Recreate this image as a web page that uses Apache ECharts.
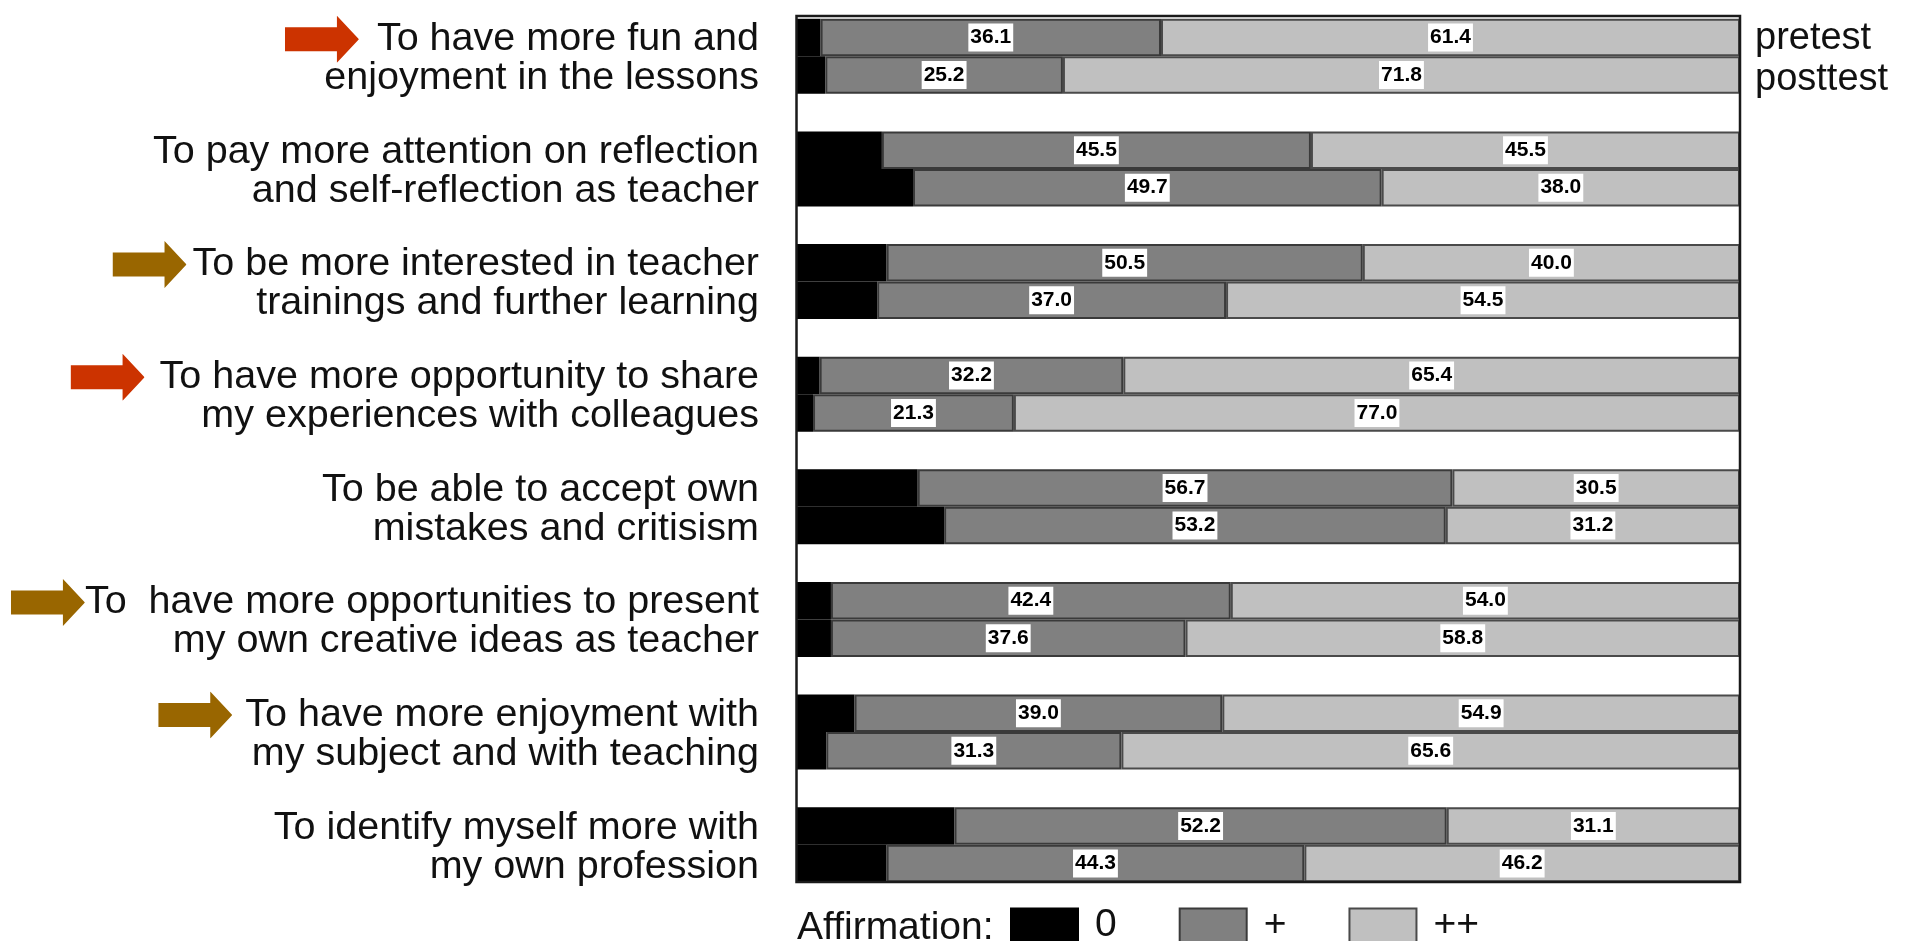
<!DOCTYPE html>
<html><head><meta charset="utf-8">
<script src="https://cdn.jsdelivr.net/npm/echarts@6/dist/echarts.min.js"></script>
<style>html,body{margin:0;padding:0;background:#fff}#c{width:1908px;height:941px}</style>
</head><body><div id="c"></div>
<script>
// ---- data ----
const categories = [
  'To have more fun and\nenjoyment in the lessons',
  'To pay more attention on reflection\nand self-reflection as teacher',
  'To be more interested in teacher\ntrainings and further learning',
  'To have more opportunity to share\nmy experiences with colleagues',
  'To be able to accept own\nmistakes and critisism',
  'To  have more opportunities to present\nmy own creative ideas as teacher',
  'To have more enjoyment with\nmy subject and with teaching',
  'To identify myself more with\nmy own profession'
];
const arrowColors = ['#CC3300', null, '#996600', '#CC3300', null, '#996600', '#996600', null];
const preZero   = [2.5, 9.0, 9.5, 2.4, 12.8, 3.6, 6.1, 16.7];
const prePlus   = [36.1, 45.5, 50.5, 32.2, 56.7, 42.4, 39.0, 52.2];
const preDouble = [61.4, 45.5, 40.0, 65.4, 30.5, 54.0, 54.9, 31.1];
const postZero   = [3.0, 12.3, 8.5, 1.7, 15.6, 3.6, 3.1, 9.5];
const postPlus   = [25.2, 49.7, 37.0, 21.3, 53.2, 37.6, 31.3, 44.3];
const postDouble = [71.8, 38.0, 54.5, 77.0, 31.2, 58.8, 65.6, 46.2];
const levelNames = ['0', '+', '++'];
const testNames = ['pretest', 'posttest'];
const legendTitle = 'Affirmation:';

// ---- layout / style ----
const arrowGaps = [18, 0, 6, 15, 0, 0, 13, 0];
const FONT = '"Liberation Sans", Arial, Helvetica, sans-serif';
const gridLeft = 797, gridRight = 1740, frameTop = 16, frameBottom = 882;
const band = 113, barW = 37.5;
const gridTop = frameTop - (band - 2 * barW) / 2;

function arrowURL(color) {
  const svg = '<svg xmlns="http://www.w3.org/2000/svg" width="74" height="47" viewBox="0 0 74 47">' +
    '<polygon points="0,11.5 52,11.5 52,0 74,23.5 52,47 52,35.5 0,35.5" fill="' + color + '"/></svg>';
  return 'data:image/svg+xml;charset=utf-8,' + encodeURIComponent(svg);
}
const rich = {};
arrowColors.forEach((c, i) => {
  if (c) {
    rich['ar' + i] = { width: 74, height: 47, lineHeight: 39, backgroundColor: { image: arrowURL(c) } };
    rich['sp' + i] = { width: arrowGaps[i], lineHeight: 39 };
  }
});

const colors = ['#000000', '#808080', '#c0c0c0'];
const borders = ['#000000', '#3a3a3a', '#4a4a4a'];
const fmt = p => p.value.toFixed(1);
const valueLabel = {
  show: true, position: 'inside', formatter: fmt,
  backgroundColor: '#ffffff', padding: [4, 2, 2, 2], lineHeight: 22,
  fontFamily: FONT, fontWeight: 'bold', fontSize: 21, color: '#000'
};

function mk(name, stack, data, lvl) {
  return {
    type: 'bar', name: name, stack: stack, data: data, barWidth: barW, barGap: 0,
    itemStyle: { color: colors[lvl], borderColor: borders[lvl], borderWidth: 2 },
    label: lvl === 0 ? { show: false } : valueLabel,
    emphasis: { disabled: true }, animation: false
  };
}

const series = [
  mk(levelNames[0], 'pre', preZero, 0),
  mk(levelNames[1], 'pre', prePlus, 1),
  mk(levelNames[2], 'pre', preDouble, 2),
  mk(levelNames[0], 'post', postZero, 0),
  mk(levelNames[1], 'post', postPlus, 1),
  mk(levelNames[2], 'post', postDouble, 2)
];

const chart = echarts.init(document.getElementById('c'), null, { renderer: 'canvas' });
chart.setOption({
  animation: false,
  backgroundColor: '#ffffff',
  grid: { left: gridLeft, width: gridRight - gridLeft, top: gridTop, height: band * categories.length, containLabel: false },
  xAxis: { type: 'value', min: 0, max: 100, show: false },
  yAxis: {
    type: 'category', inverse: true, data: categories,
    axisLine: { show: false }, axisTick: { show: false }, splitLine: { show: false },
    axisLabel: {
      interval: 0, margin: 38, fontSize: 39.5, lineHeight: 39, color: '#111', fontFamily: FONT,
      padding: [5, 0, 0, 0],
      formatter: function (v, i) {
        if (!arrowColors[i]) return v;
        const parts = v.split('\n');
        return '{ar' + i + '|}{sp' + i + '|}' + parts[0] + '\n' + parts.slice(1).join('\n');
      },
      rich: rich
    }
  },
  title: {
    text: legendTitle, left: 797, top: 908, padding: 0,
    textStyle: { fontFamily: FONT, fontSize: 39, fontWeight: 'normal', color: '#111', lineHeight: 40 }
  },
  legend: {
    data: levelNames, left: 1010, top: 906, padding: 0, icon: 'rect',
    itemWidth: 67, itemHeight: 34, itemGap: 62, selectedMode: false,
    textStyle: { fontFamily: FONT, fontSize: 39, color: '#111', padding: [0, 0, 0, 12] }
  },
  graphic: [
    { type: 'rect', z: 100, silent: true,
      shape: { x: gridLeft - 0.5, y: frameTop, width: gridRight - gridLeft + 0.5, height: frameBottom - frameTop },
      style: { fill: null, stroke: '#1a1a1a', lineWidth: 2.5 } },
    { type: 'text', left: 1755, top: 20, silent: true,
      style: { text: testNames[0], font: '38px ' + FONT, fill: '#111' } },
    { type: 'text', left: 1755, top: 61, silent: true,
      style: { text: testNames[1], font: '38px ' + FONT, fill: '#111' } }
  ],
  series: series
});
</script>
</body></html>
